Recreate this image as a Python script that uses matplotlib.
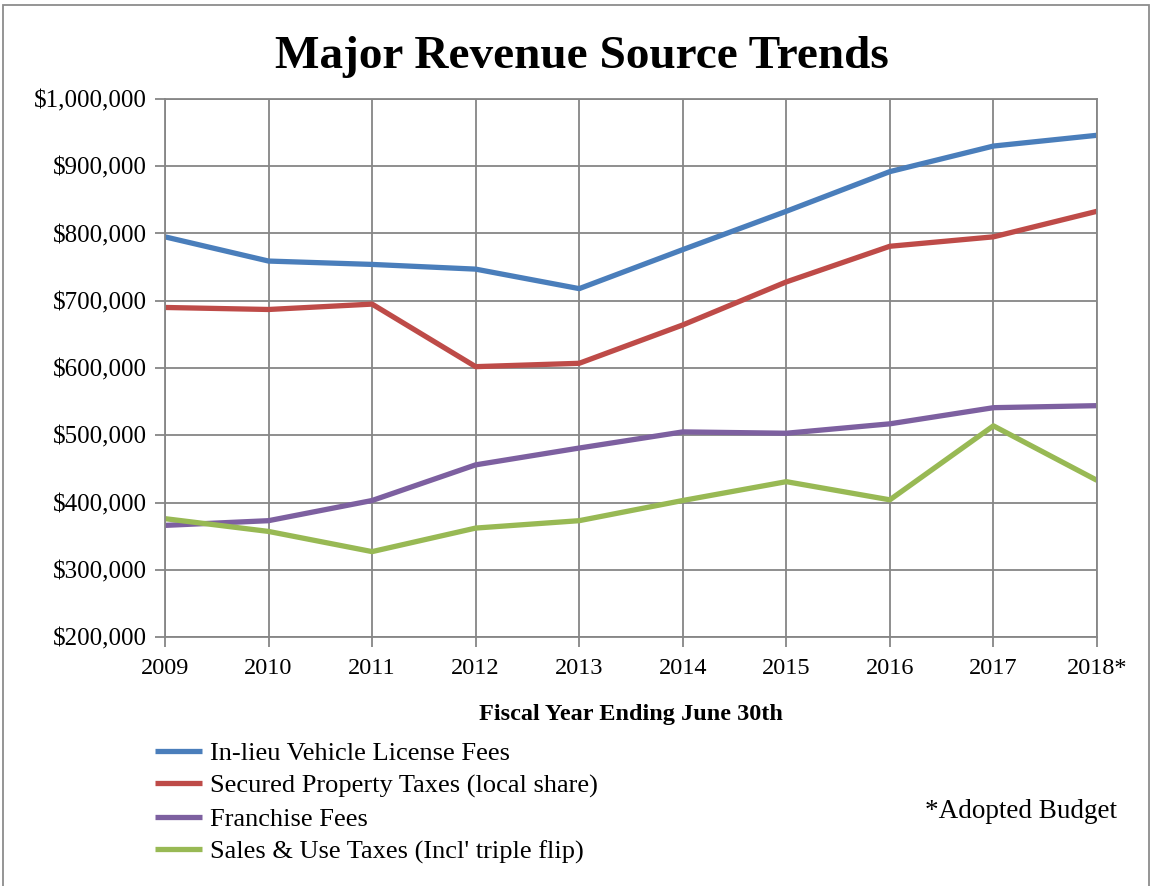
import matplotlib
matplotlib.use("Agg")
import matplotlib.pyplot as plt
import matplotlib.patches as patches
from matplotlib.ticker import FuncFormatter

years = [2009, 2010, 2011, 2012, 2013, 2014, 2015, 2016, 2017, 2018]
year_labels = ["2009", "2010", "2011", "2012", "2013", "2014", "2015", "2016", "2017", "2018*"]

vehicle_fees = [795000, 759000, 754000, 747000, 718000, 776000, 833000, 892000, 930000, 946000]
property_taxes = [690000, 687000, 695000, 602000, 607000, 664000, 728000, 781000, 795000, 833000]
franchise_fees = [366000, 373000, 403000, 456000, 481000, 505000, 503000, 517000, 541000, 544000]
sales_taxes = [376000, 357000, 327000, 362000, 373000, 403000, 431000, 404000, 514000, 433000]

series_names = [
    "In-lieu Vehicle License Fees",
    "Secured Property Taxes (local share)",
    "Franchise Fees",
    "Sales & Use Taxes (Incl' triple flip)",
]
colors = ["#4A7EBB", "#BE4B48", "#7D60A0", "#98B954"]

plt.rcParams["font.family"] = ["Liberation Serif", "DejaVu Serif"]

fig = plt.figure(figsize=(11.53, 8.86), dpi=100)
ax = fig.add_axes([0.1431, 0.281, 0.8083, 0.6073])

for vals, name, c in zip([vehicle_fees, property_taxes, franchise_fees, sales_taxes], series_names, colors):
    ax.plot(years, vals, color=c, linewidth=3.8, label=name, solid_capstyle="butt")

ax.set_xlim(2009, 2018)
ax.set_ylim(200000, 1000000)
ax.set_xticks(years)
ax.set_xticklabels(year_labels)
ax.set_yticks(range(200000, 1000001, 100000))
ax.yaxis.set_major_formatter(FuncFormatter(lambda v, p: "${:,.0f}".format(v)))

grid_color = "#868686"
ax.grid(True, color=grid_color, linewidth=1.3)
ax.set_axisbelow(True)
for s in ax.spines.values():
    s.set_color(grid_color)
    s.set_linewidth(1.3)
ax.tick_params(axis="both", colors=grid_color, labelcolor="black", labelsize=18,
               length=7, width=1.3)
ax.tick_params(axis="x", labelsize=17.5, pad=8)
ax.tick_params(axis="y", pad=6)

ax.set_xlabel("Fiscal Year Ending June 30th", fontsize=17.5, fontweight="bold", labelpad=18)

fig.text(0.505, 0.936, "Major Revenue Source Trends", ha="center", va="center",
         fontsize=34, fontweight="bold")

fig.legend(loc="upper left", bbox_to_anchor=(0.125, 0.175), frameon=False, fontsize=19,
           handlelength=1.8, handletextpad=0.3, labelspacing=0.35, borderaxespad=0)

fig.text(0.802, 0.084, "*Adopted Budget", ha="left", va="center", fontsize=19.5)

# thin frame round the whole chart
fig.patches.append(patches.Rectangle((3 / 1153, -0.01), 1146 / 1153, 1.01 - 5 / 886,
                                     transform=fig.transFigure, fill=False,
                                     edgecolor="#8C8C8C", linewidth=1.3))

fig.savefig("out.png", dpi=100)
